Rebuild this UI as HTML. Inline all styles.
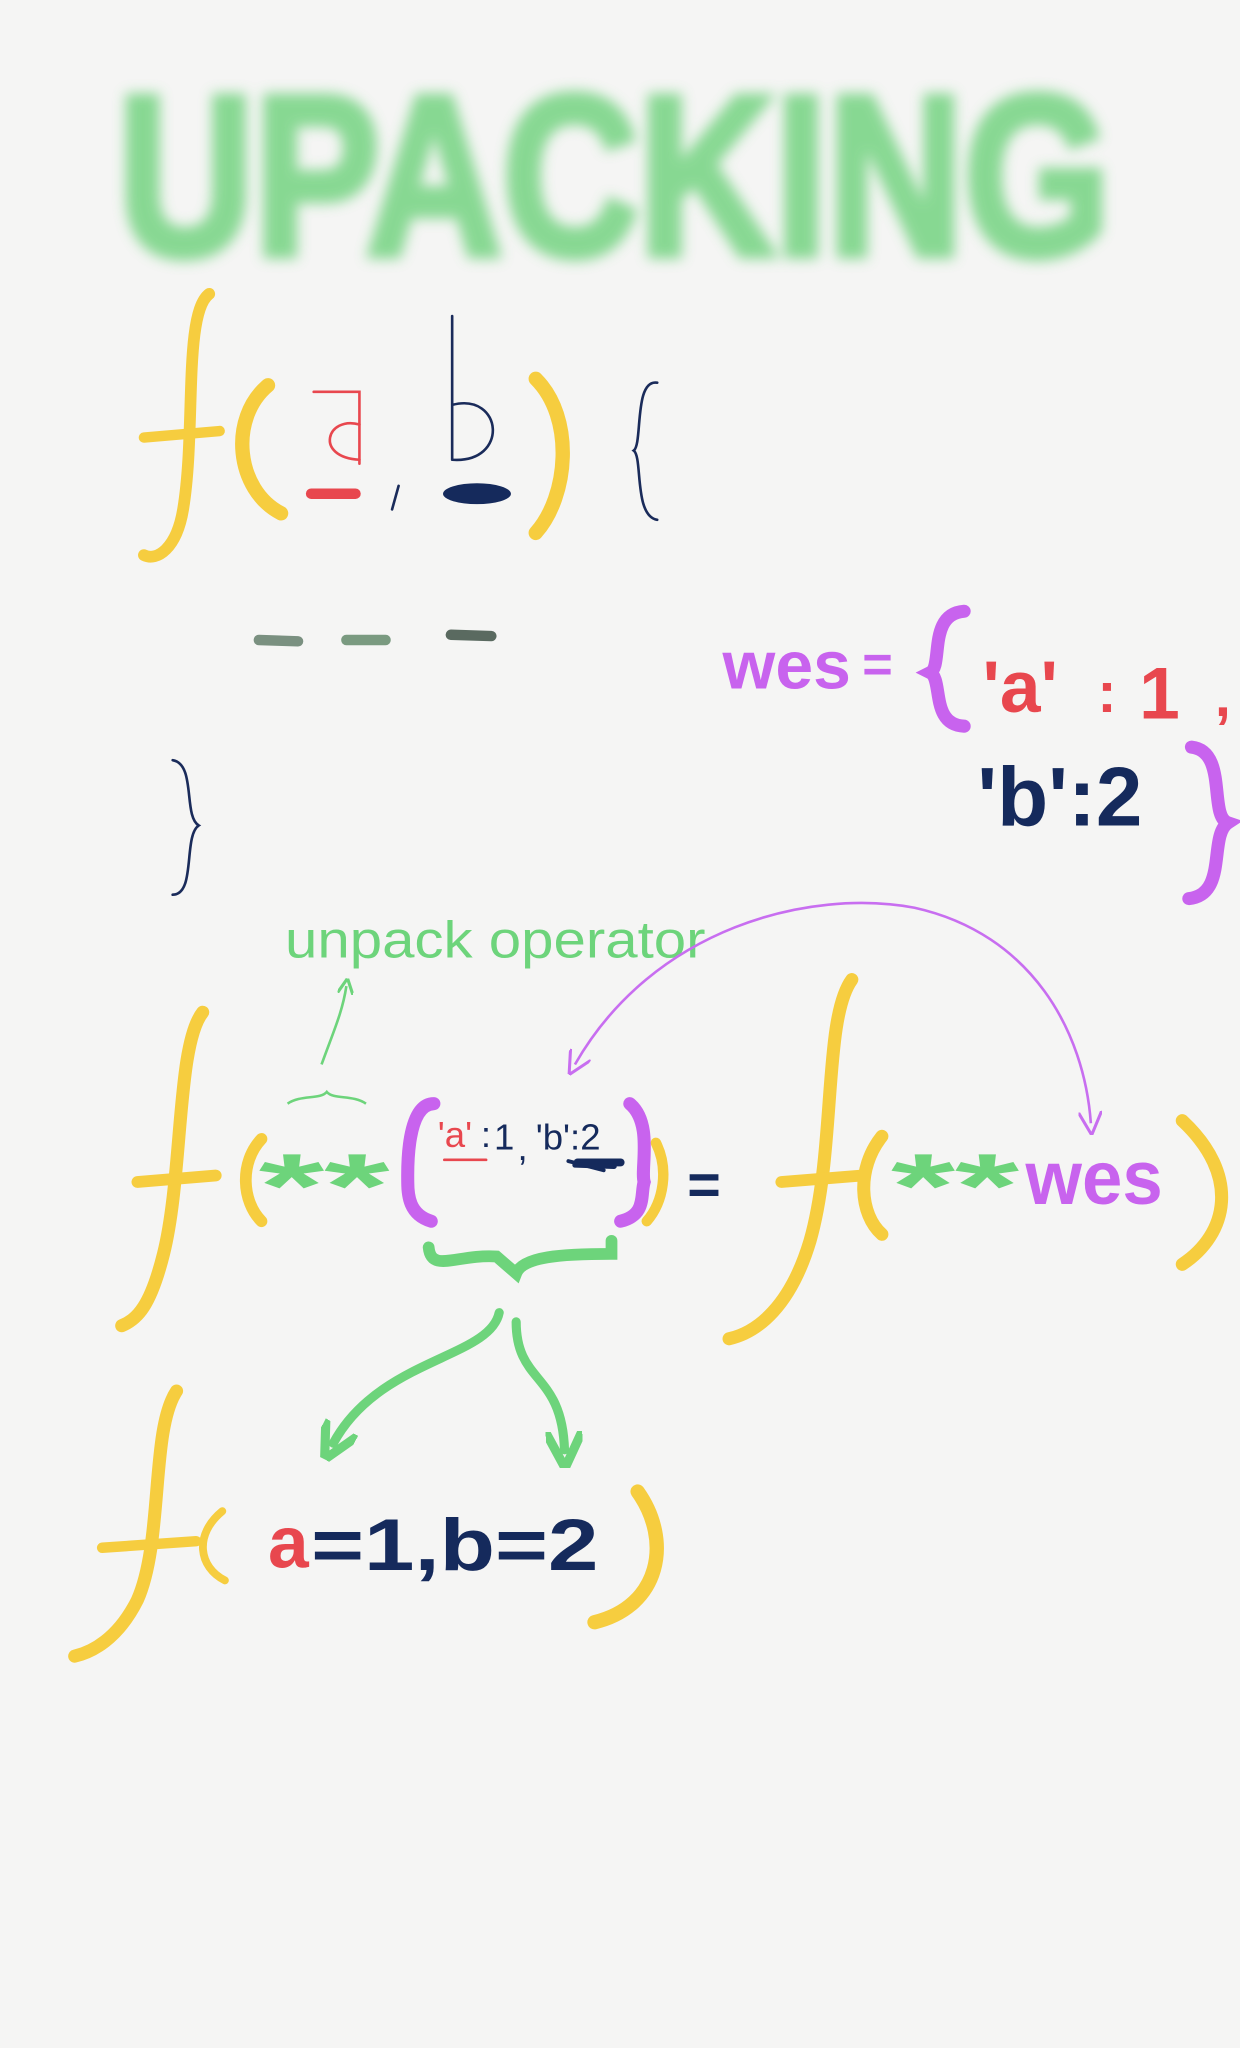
<!DOCTYPE html>
<html><head><meta charset="utf-8"><style>
html,body{margin:0;padding:0;background:#f5f5f4;}
svg{display:block}
text{font-family:"Liberation Sans",sans-serif}
</style></head><body>
<svg width="1240" height="2048" viewBox="0 0 949 1568" xmlns="http://www.w3.org/2000/svg">
<defs><filter id="bl"><feGaussianBlur stdDeviation="5"/></filter>
<marker id="ag" viewBox="0 0 10 10" refX="5" refY="5" markerWidth="6" markerHeight="6" orient="auto-start-reverse"><path d="M0,0 L10,5 L0,10" fill="none" stroke="#6dd47b" stroke-width="2"/></marker>
<marker id="ap" viewBox="0 0 10 10" refX="5" refY="5" markerWidth="9" markerHeight="9" orient="auto-start-reverse"><path d="M0,0 L10,5 L0,10" fill="none" stroke="#c86ef0" stroke-width="1.3"/></marker>
<marker id="ag2" viewBox="0 0 10 10" refX="5" refY="5" markerWidth="4" markerHeight="4" orient="auto-start-reverse"><path d="M0,0 L10,5 L0,10" fill="none" stroke="#6dd47b" stroke-width="2.5"/></marker>
</defs>
<rect width="949" height="1568" fill="#f5f5f4"/>
<text x="90" y="195" font-size="175" font-weight="bold" fill="#64cf72" opacity="0.75" textLength="760" lengthAdjust="spacingAndGlyphs" filter="url(#bl)" stroke="#64cf72" stroke-width="6">UPACKING</text>

<g fill="none" stroke-linecap="round">
<path d="M160,225 C140,240 150,330 140,390 C135,420 120,430 110,425" stroke="#f6cd3f" stroke-width="9"/>
<path d="M110,335 L168,330" stroke="#f6cd3f" stroke-width="8"/>
<path d="M205,295 C175,320 180,375 215,393" stroke="#f6cd3f" stroke-width="11"/>
<path d="M410,290 C440,320 435,380 410,408" stroke="#f6cd3f" stroke-width="11"/>
<path d="M240,300 L275,300 L275,355" stroke="#e8474e" stroke-width="2"/>
<path d="M275,325 C250,318 240,350 275,352" stroke="#e8474e" stroke-width="2"/>
<path d="M238,378 L272,378" stroke="#e8474e" stroke-width="8"/>
<path d="M305,372 L300,390" stroke="#1a2b5a" stroke-width="2"/>
<path d="M346,242 L346,352 M346,310 C385,300 390,355 346,352" stroke="#1a2b5a" stroke-width="2"/>
<ellipse cx="365" cy="378" rx="26" ry="8" fill="#152a5c" stroke="none"/>
<path d="M503,293 C485,290 492,340 485,345 C492,350 485,395 503,398" stroke="#1a2b5a" stroke-width="2"/>
<path d="M198,490 L228,491" stroke="#7a9080" stroke-width="8"/>
<path d="M265,490 L295,490" stroke="#7a9a80" stroke-width="8"/>
<path d="M345,486 L376,487" stroke="#5a6a60" stroke-width="8"/>
<path d="M132,582 C150,585 140,625 152,632 C140,640 150,685 132,685" stroke="#1a2b5a" stroke-width="2"/>
</g>

<text x="553" y="527" font-size="52" font-weight="bold" fill="#c863ee">wes</text>
<text x="660" y="522" font-size="40" font-weight="bold" fill="#c863ee">=</text>
<g fill="none" stroke-linecap="round">
<path d="M738,468 C710,470 722,510 712,515 C722,520 712,555 738,556" stroke="#c863ee" stroke-width="10"/>
<path d="M912,572 C940,575 925,625 940,630 C925,640 940,685 910,688" stroke="#c863ee" stroke-width="10"/>
</g>
<text x="752" y="545" font-size="56" font-weight="bold" fill="#e8474e">'a'</text>
<text x="840" y="545" font-size="44" font-weight="bold" fill="#e8474e">:</text>
<text x="872" y="550" font-size="56" font-weight="bold" fill="#e8474e">1</text>
<text x="930" y="548" font-size="44" font-weight="bold" fill="#e8474e">,</text>
<text x="748" y="632" font-size="64" font-weight="bold" fill="#152a5c">'b':2</text>

<text x="218" y="733" font-size="40" fill="#6dd47b" textLength="322" lengthAdjust="spacingAndGlyphs">unpack operator</text>
<path d="M246,815 C255,790 262,775 265,755" fill="none" stroke="#6dd47b" stroke-width="2" marker-end="url(#ag)"/>
<path d="M220,845 C230,838 245,842 250,836 C255,842 270,838 280,845" fill="none" stroke="#6dd47b" stroke-width="2"/>
<path d="M440,815 C500,710 620,680 700,695 C790,715 830,790 835,860" fill="none" stroke="#c86ef0" stroke-width="2" marker-start="url(#ap)" marker-end="url(#ap)"/>

<g fill="none" stroke-linecap="round">
<path d="M155,775 C135,800 140,900 125,960 C115,1000 105,1010 93,1015" stroke="#f6cd3f" stroke-width="10"/>
<path d="M105,905 L165,900" stroke="#f6cd3f" stroke-width="9"/>
<path d="M200,872 C183,890 185,920 200,935" stroke="#f6cd3f" stroke-width="9"/>
<path d="M502,875 C512,895 508,920 495,935" stroke="#f6cd3f" stroke-width="8"/>
<path d="M332,845 C310,845 312,900 312,905 C312,915 313,930 330,935" stroke="#c863ee" stroke-width="10"/>
<path d="M482,845 C500,860 490,895 493,905 C490,915 495,930 475,935" stroke="#c863ee" stroke-width="10"/>
<path d="M442,890 L475,890" stroke="#152a5c" stroke-width="6"/>
<path d="M435,889 L462,896" stroke="#152a5c" stroke-width="3"/>
<path d="M440,892 L470,893" stroke="#152a5c" stroke-width="4"/>
<path d="M340,888 L372,888" stroke="#e8474e" stroke-width="2"/>
<path d="M652,750 C630,780 640,880 620,950 C605,1000 580,1020 558,1025" stroke="#f6cd3f" stroke-width="10"/>
<path d="M598,905 L660,900" stroke="#f6cd3f" stroke-width="9"/>
<path d="M675,870 C655,895 658,930 675,945" stroke="#f6cd3f" stroke-width="10"/>
<path d="M905,858 C950,900 940,945 905,968" stroke="#f6cd3f" stroke-width="10"/>
<path d="M328,955 C330,975 350,960 380,962 L395,975 C400,962 430,960 468,960 L468,950" stroke="#6dd47b" stroke-width="9"/>
<path d="M382,1005 C375,1040 290,1040 255,1105" stroke="#6dd47b" stroke-width="7" marker-end="url(#ag2)"/>
<path d="M395,1012 C395,1060 430,1050 432,1110" stroke="#6dd47b" stroke-width="7" marker-end="url(#ag2)"/>
</g>
<text x="198" y="932" font-size="70" font-weight="bold" fill="#6dd47b" textLength="100" lengthAdjust="spacingAndGlyphs">**</text>
<text x="335" y="878" font-size="28" fill="#e8474e">'a'</text>
<text x="368" y="878" font-size="28" fill="#152a5c">:</text>
<text x="378" y="880" font-size="28" fill="#152a5c">1</text>
<text x="396" y="888" font-size="28" fill="#152a5c">,</text>
<text x="410" y="880" font-size="28" fill="#152a5c">'b':2</text>
<text x="526" y="922" font-size="44" font-weight="bold" fill="#152a5c">=</text>
<text x="682" y="932" font-size="70" font-weight="bold" fill="#6dd47b" textLength="98" lengthAdjust="spacingAndGlyphs">**</text>
<text x="785" y="922" font-size="58" font-weight="bold" fill="#c863ee" textLength="105" lengthAdjust="spacingAndGlyphs">wes</text>

<g fill="none" stroke-linecap="round">
<path d="M135,1065 C115,1095 125,1180 105,1225 C90,1255 70,1265 57,1268" stroke="#f6cd3f" stroke-width="10"/>
<path d="M78,1185 L150,1180" stroke="#f6cd3f" stroke-width="8"/>
<path d="M170,1157 C148,1175 152,1200 172,1210" stroke="#f6cd3f" stroke-width="6"/>
<path d="M488,1142 C515,1180 505,1230 455,1242" stroke="#f6cd3f" stroke-width="11"/>
</g>
<text x="205" y="1200" font-size="56" font-weight="bold" fill="#e8474e">a</text>
<text x="238" y="1202" font-size="56" font-weight="bold" fill="#152a5c" textLength="220" lengthAdjust="spacingAndGlyphs">=1,b=2</text>
</svg>
</body></html>
